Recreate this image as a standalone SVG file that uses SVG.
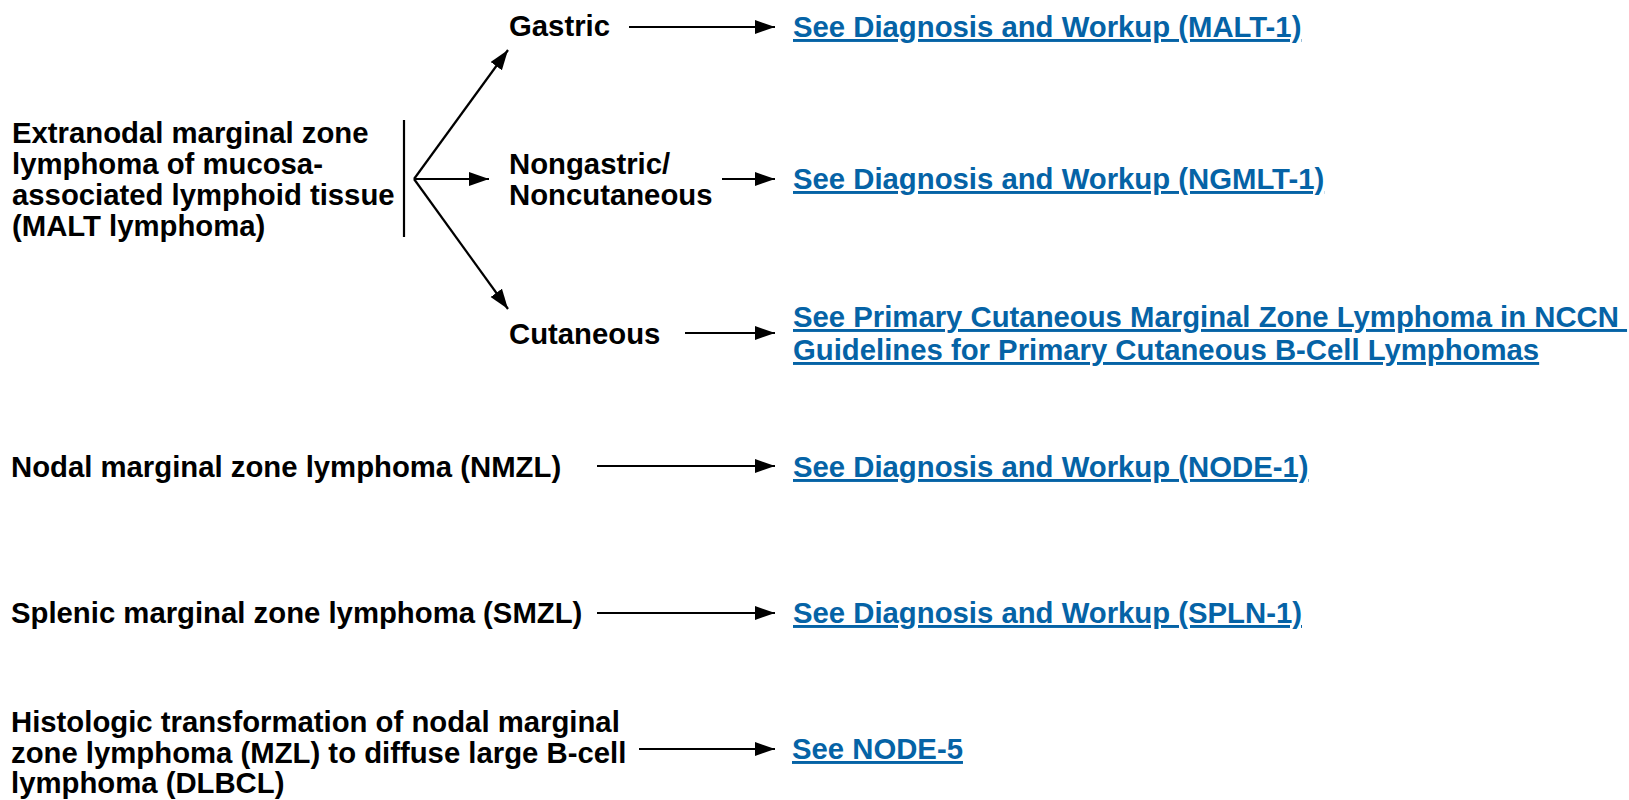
<svg xmlns="http://www.w3.org/2000/svg" width="1629" height="800" viewBox="0 0 1629 800">
<style>
  text { font-family: "Liberation Sans", Arial, sans-serif; font-weight: bold; font-size: 29.3px; fill: #000; }
  .link { fill: #0563a6; text-decoration: underline; white-space: pre; }
  .conn line { stroke: #000; stroke-width: 2.2; fill: none; }
  .arr { marker-end: url(#ah); }
</style>
<defs>
  <marker id="ah" markerUnits="userSpaceOnUse" markerWidth="22" markerHeight="16" refX="20" refY="7" orient="auto">
    <path d="M0,0 L20,7 L0,14 z" fill="#000"/>
  </marker>
</defs>
<rect width="1629" height="800" fill="#fff"/>

<g id="malt">
  <text x="12" y="143">Extranodal marginal zone</text>
  <text x="12" y="174">lymphoma of mucosa-</text>
  <text x="12" y="205">associated lymphoid tissue</text>
  <text x="12" y="236">(MALT lymphoma)</text>
</g>
<g id="gastric"><text x="509" y="36">Gastric</text></g>
<g id="nongastric">
  <text x="509" y="174">Nongastric/</text>
  <text x="509" y="205">Noncutaneous</text>
</g>
<g id="cutaneous"><text x="509" y="344">Cutaneous</text></g>
<g id="link-malt"><text class="link" x="793" y="37">See Diagnosis and Workup (MALT-1)</text></g>
<g id="link-ngmlt"><text class="link" x="793" y="189">See Diagnosis and Workup (NGMLT-1)</text></g>
<g id="link-pcmzl">
  <text class="link" x="793" y="327">See Primary Cutaneous Marginal Zone Lymphoma in NCCN </text>
  <text class="link" x="793" y="360">Guidelines for Primary Cutaneous B-Cell Lymphomas</text>
</g>
<g id="nmzl"><text x="11" y="477">Nodal marginal zone lymphoma (NMZL)</text></g>
<g id="link-node1"><text class="link" x="793" y="477">See Diagnosis and Workup (NODE-1)</text></g>
<g id="smzl"><text x="11" y="623">Splenic marginal zone lymphoma (SMZL)</text></g>
<g id="link-spln1"><text class="link" x="793" y="623">See Diagnosis and Workup (SPLN-1)</text></g>
<g id="histologic">
  <text x="11" y="732">Histologic transformation of nodal marginal</text>
  <text x="11" y="763">zone lymphoma (MZL) to diffuse large B-cell</text>
  <text x="11" y="793">lymphoma (DLBCL)</text>
</g>
<g id="link-node5"><text class="link" x="792" y="759">See NODE-5</text></g>

<g id="connectors" class="conn">
  <line x1="404" y1="120" x2="404" y2="237"/>
  <line class="arr" x1="414" y1="179" x2="508" y2="50"/>
  <line class="arr" x1="414" y1="179" x2="489" y2="179"/>
  <line class="arr" x1="414" y1="179" x2="508" y2="309"/>
  <line class="arr" x1="629" y1="27" x2="775" y2="27"/>
  <line class="arr" x1="722" y1="179" x2="775" y2="179"/>
  <line class="arr" x1="685" y1="333" x2="775" y2="333"/>
  <line class="arr" x1="597" y1="466" x2="775" y2="466"/>
  <line class="arr" x1="597" y1="613" x2="775" y2="613"/>
  <line class="arr" x1="639" y1="749" x2="775" y2="749"/>
</g>
</svg>
